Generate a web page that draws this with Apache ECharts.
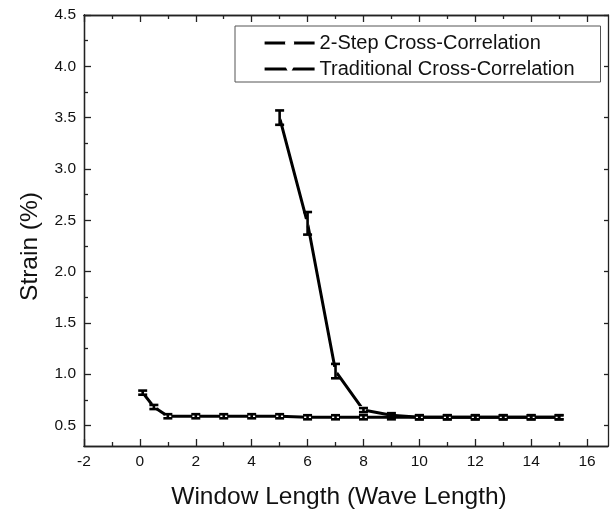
<!DOCTYPE html>
<html>
<head>
<meta charset="utf-8">
<script src="https://cdn.jsdelivr.net/npm/echarts@6/dist/echarts.min.js"></script>
<style>html,body{margin:0;padding:0;background:#fff;}#c{width:611px;height:516px;}</style>
</head>
<body>
<div id="c"></div>
<script>
// ---- data ----
const xTwoStep = [0.1, 0.5, 1, 2, 3, 4, 5, 6, 7, 8, 9, 10, 11, 12, 13, 14, 15];
const yTwoStep = [0.82, 0.68, 0.59, 0.59, 0.59, 0.59, 0.59, 0.58, 0.58, 0.58, 0.58, 0.58, 0.58, 0.58, 0.58, 0.58, 0.58];
const eTwoStep = [0.02, 0.02, 0.02, 0.02, 0.02, 0.02, 0.02, 0.02, 0.02, 0.02, 0.02, 0.02, 0.02, 0.02, 0.02, 0.02, 0.02];
const xTrad = [5, 6, 7, 8, 9, 10, 11, 12, 13, 14, 15];
const yTrad = [3.50, 2.47, 1.03, 0.65, 0.60, 0.58, 0.58, 0.58, 0.58, 0.58, 0.58];
const eTrad = [0.07, 0.11, 0.07, 0.02, 0.02, 0.02, 0.02, 0.02, 0.02, 0.02, 0.02];
const xMajorTicks = [-2, 0, 2, 4, 6, 8, 10, 12, 14, 16];
const xMinorTicks = [-1, 1, 3, 5, 7, 9, 11, 13, 15];
const yMajorTicks = [0.5, 1.0, 1.5, 2.0, 2.5, 3.0, 3.5, 4.0, 4.5];
const yMinorTicks = [0.75, 1.25, 1.75, 2.25, 2.75, 3.25, 3.75, 4.25];
const seriesNames = ['2-Step Cross-Correlation', 'Traditional Cross-Correlation'];

const FONT = "'Liberation Sans', Arial, sans-serif";
const AX = '#222';

function pairs(xs, ys) { return xs.map((x, i) => [x, ys[i]]); }
function errs(xs, ys, es) { return xs.map((x, i) => [x, ys[i] - es[i], ys[i] + es[i]]); }

function errRender(params, api) {
  const x = api.value(0), lo = api.value(1), hi = api.value(2);
  const pLo = api.coord([x, lo]);
  const pHi = api.coord([x, hi]);
  const hw = 4.5;
  const st = { stroke: '#000', lineWidth: 2.6 };
  return {
    type: 'group',
    children: [
      { type: 'line', shape: { x1: pLo[0], y1: pLo[1], x2: pHi[0], y2: pHi[1] }, style: st },
      { type: 'line', shape: { x1: pLo[0] - hw, y1: pLo[1], x2: pLo[0] + hw, y2: pLo[1] }, style: st },
      { type: 'line', shape: { x1: pHi[0] - hw, y1: pHi[1], x2: pHi[0] + hw, y2: pHi[1] }, style: st }
    ]
  };
}

const XMIN = -2, XMAX = 16.75, YMIN = 0.3, YMAX = 4.5;

function xAx(pos, ticks, len, labels) {
  return {
    type: 'value', position: pos, min: XMIN, max: XMAX,
    axisLine: { show: true, onZero: false, lineStyle: { color: AX, width: 1.3 } },
    axisTick: { show: true, inside: true, length: len, customValues: ticks, lineStyle: { color: AX, width: 1.3 } },
    axisLabel: labels ? { show: true, customValues: ticks, color: '#111', fontSize: 15.5, fontFamily: FONT, margin: 8 } : { show: false },
    splitLine: { show: false }
  };
}
function yAx(pos, ticks, len, labels) {
  return {
    type: 'value', position: pos, min: YMIN, max: YMAX,
    axisLine: { show: true, onZero: false, lineStyle: { color: AX, width: 1.3 } },
    axisTick: { show: true, inside: true, length: len, customValues: ticks, lineStyle: { color: AX, width: 1.3 } },
    axisLabel: labels ? { show: true, customValues: ticks, color: '#111', fontSize: 15.5, fontFamily: FONT, margin: 8,
      formatter: v => v.toFixed(1) } : { show: false },
    splitLine: { show: false }
  };
}

const xBottom = xAx('bottom', xMajorTicks, 7, true);
xBottom.name = 'Window Length (Wave Length)';
xBottom.nameLocation = 'middle';
xBottom.nameGap = 39;
xBottom.nameTextStyle = { fontSize: 24.5, fontFamily: FONT, color: '#111', padding: [0, 14, 0, 0] };
const yLeft = yAx('left', yMajorTicks, 7, true);
yLeft.name = 'Strain (%)';
yLeft.nameLocation = 'middle';
yLeft.nameGap = 41;
yLeft.nameTextStyle = { fontSize: 24.5, fontFamily: FONT, color: '#111', padding: [0, 32, 0, 0] };

const option = {
  animation: false,
  backgroundColor: '#fff',
  grid: { left: 84, top: 15, right: 3, bottom: 70, containLabel: false },
  legend: {
    orient: 'vertical', left: 235, top: 26,
    padding: [7, 26, 3, 28],
    itemGap: 6, itemWidth: 50, itemHeight: 9,
    borderColor: '#555', borderWidth: 1,
    textStyle: { fontSize: 20, fontFamily: FONT, color: '#111' },
    lineStyle: { width: 3.2, color: '#000' },
    data: seriesNames
  },
  xAxis: [
    xBottom,
    xAx('bottom', xMinorTicks, 4, false),
    xAx('top', xMajorTicks, 7, false),
    xAx('top', xMinorTicks, 4, false)
  ],
  yAxis: [
    yLeft,
    yAx('left', yMinorTicks, 4, false),
    yAx('right', yMajorTicks, 4, false)
  ],
  series: [
    {
      name: seriesNames[0], type: 'line', xAxisIndex: 0, yAxisIndex: 0,
      data: pairs(xTwoStep, yTwoStep),
      symbol: 'emptyCircle', symbolSize: 5,
      lineStyle: { color: '#000', width: 3 },
      itemStyle: { color: '#fff', borderColor: '#666', borderWidth: 1 },
      z: 2
    },
    {
      name: seriesNames[1], type: 'line', xAxisIndex: 0, yAxisIndex: 0,
      data: pairs(xTrad, yTrad),
      symbol: 'emptyTriangle', symbolSize: 6, symbolRotate: 180,
      lineStyle: { color: '#000', width: 3 },
      itemStyle: { color: '#fff', borderColor: '#666', borderWidth: 1 },
      z: 2
    },
    {
      type: 'custom', xAxisIndex: 0, yAxisIndex: 0,
      data: errs(xTwoStep, yTwoStep, eTwoStep),
      renderItem: errRender, encode: { x: 0, y: [1, 2] }, z: 5, silent: true
    },
    {
      type: 'custom', xAxisIndex: 0, yAxisIndex: 0,
      data: errs(xTrad, yTrad, eTrad),
      renderItem: errRender, encode: { x: 0, y: [1, 2] }, z: 5, silent: true
    }
  ]
};

const chart = echarts.init(document.getElementById('c'), null, { renderer: 'canvas' });
chart.setOption(option);
</script>
</body>
</html>
